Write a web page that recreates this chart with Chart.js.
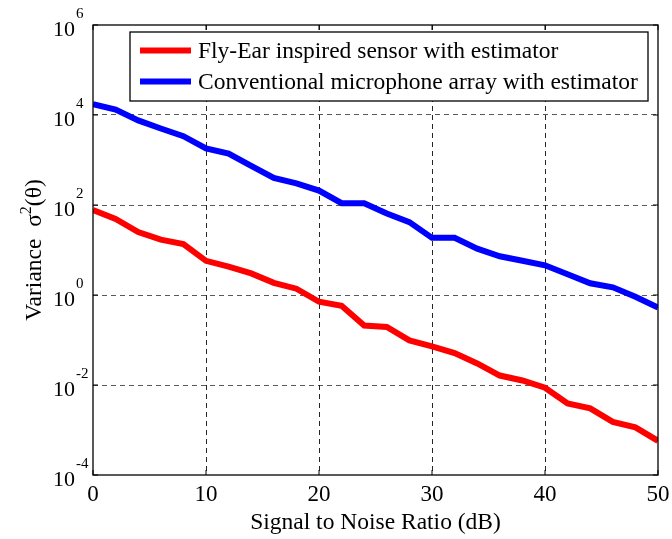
<!DOCTYPE html>
<html>
<head>
<meta charset="utf-8">
<script src="https://cdn.jsdelivr.net/npm/chart.js@4/dist/chart.umd.min.js"></script>
<style>
html,body{margin:0;padding:0;background:#fff;}
#wrap{width:672px;height:539px;position:relative;}
</style>
</head>
<body>
<div id="wrap"><canvas id="c" width="672" height="539"></canvas></div>
<script>
// ---- data ----
const snrDb = [0,2,4,6,8,10,12,14,16,18,20,22,24,26,28,30,32,34,36,38,40,42,44,46,48,50];
// log10 of variance
const flyEarLog = [1.89,1.69,1.40,1.23,1.13,0.76,0.63,0.48,0.27,0.14,-0.15,-0.24,-0.68,-0.71,-1.01,-1.14,-1.29,-1.52,-1.79,-1.90,-2.06,-2.41,-2.52,-2.82,-2.94,-3.24];
const conventionalLog = [4.24,4.12,3.88,3.70,3.53,3.26,3.14,2.87,2.60,2.48,2.32,2.04,2.04,1.81,1.62,1.27,1.27,1.03,0.86,0.76,0.66,0.46,0.26,0.17,-0.04,-0.28];
const flyEarValues = flyEarLog.map(v => Math.pow(10, v));
const conventionalValues = conventionalLog.map(v => Math.pow(10, v));
const seriesLabels = ['Fly-Ear inspired sensor with estimator', 'Conventional microphone array with estimator'];
const xTicks = [0,10,20,30,40,50];
const yTickExponents = [-4,-2,0,2,4,6];
const xTitle = 'Signal to Noise Ratio (dB)';
const yTitleMain = 'Variance  \u03C3';
const yTitleSup = '2';
const yTitleEnd = '(\u03B8)';

const FONT = '"Liberation Serif", "Times New Roman", serif';

const decorPlugin = {
  id: 'decor',
  beforeDraw(chart) {
    const ctx = chart.ctx;
    ctx.save();
    ctx.fillStyle = '#fff';
    ctx.fillRect(0, 0, chart.width, chart.height);
    ctx.restore();
  },
  afterDatasetsDraw(chart) {
    const ctx = chart.ctx;
    const a = chart.chartArea;
    const xs = chart.scales.x, ys = chart.scales.y;
    ctx.save();
    // box
    ctx.strokeStyle = '#000';
    ctx.lineWidth = 1.3;
    ctx.setLineDash([]);
    ctx.strokeRect(a.left, a.top, a.right - a.left, a.bottom - a.top);
    // inner tick marks
    ctx.lineWidth = 1;
    ctx.beginPath();
    xTicks.forEach(t => {
      const px = xs.getPixelForValue(t);
      ctx.moveTo(px, a.bottom); ctx.lineTo(px, a.bottom - 5);
      ctx.moveTo(px, a.top); ctx.lineTo(px, a.top + 5);
    });
    yTickExponents.forEach(e => {
      const py = ys.getPixelForValue(Math.pow(10, e));
      ctx.moveTo(a.left, py); ctx.lineTo(a.left + 5, py);
      ctx.moveTo(a.right, py); ctx.lineTo(a.right - 5, py);
    });
    ctx.stroke();

    // legend
    const lx = a.left + 37, ly = a.top + 7, lw = 518, lh = 69;
    ctx.fillStyle = '#fff';
    ctx.fillRect(lx, ly, lw, lh);
    ctx.strokeStyle = '#000';
    ctx.lineWidth = 1.3;
    ctx.strokeRect(lx, ly, lw, lh);
    ctx.font = '23.5px ' + FONT;
    ctx.textBaseline = 'middle';
    ctx.textAlign = 'left';
    chart.data.datasets.forEach((ds, i) => {
      const yy = ly + 18.5 + i * 31;
      ctx.strokeStyle = ds.borderColor;
      ctx.lineWidth = 6;
      ctx.beginPath();
      ctx.moveTo(lx + 10, yy); ctx.lineTo(lx + 61, yy);
      ctx.stroke();
      ctx.fillStyle = '#000';
      ctx.fillText(ds.label, lx + 68, yy + 1);
    });

    // x tick labels
    ctx.fillStyle = '#000';
    ctx.font = '23px ' + FONT;
    ctx.textAlign = 'center';
    ctx.textBaseline = 'middle';
    xTicks.forEach(t => {
      ctx.fillText(String(t), xs.getPixelForValue(t), a.bottom + 20);
    });
    // x title
    ctx.font = '23.5px ' + FONT;
    ctx.fillText(xTitle, (a.left + a.right) / 2, a.bottom + 48);

    // y tick labels with superscripts
    yTickExponents.forEach(e => {
      const py = ys.getPixelForValue(Math.pow(10, e));
      const sup = e < 0 ? '-' + Math.abs(e) : String(e);
      const right = a.left - 18;
      ctx.textBaseline = 'alphabetic';
      ctx.font = '22px ' + FONT;
      ctx.textAlign = 'right';
      ctx.fillText('10', right, py + 11);
      ctx.font = '15px ' + FONT;
      ctx.textAlign = 'left';
      ctx.fillText(sup, right + 1, py - 7);
    });

    // y title rotated
    ctx.save();
    ctx.translate(41, (a.top + a.bottom) / 2);
    ctx.rotate(-Math.PI / 2);
    ctx.textBaseline = 'alphabetic';
    ctx.font = '23.5px ' + FONT;
    const w1 = ctx.measureText(yTitleMain).width;
    ctx.font = '16px ' + FONT;
    const w2 = ctx.measureText(yTitleSup).width;
    ctx.font = '23.5px ' + FONT;
    const w3 = ctx.measureText(yTitleEnd).width;
    let x0 = -(w1 + w2 + w3) / 2;
    ctx.textAlign = 'left';
    ctx.fillText(yTitleMain, x0, 0);
    ctx.font = '16px ' + FONT;
    ctx.fillText(yTitleSup, x0 + w1, -10);
    ctx.font = '23.5px ' + FONT;
    ctx.fillText(yTitleEnd, x0 + w1 + w2, 0);
    ctx.restore();

    ctx.restore();
  }
};

new Chart(document.getElementById('c'), {
  type: 'line',
  data: {
    labels: snrDb,
    datasets: [
      { label: seriesLabels[0], data: snrDb.map((x, i) => ({x, y: flyEarValues[i]})), borderColor: '#ff0000', borderWidth: 6, pointRadius: 0, tension: 0, fill: false },
      { label: seriesLabels[1], data: snrDb.map((x, i) => ({x, y: conventionalValues[i]})), borderColor: '#0000ff', borderWidth: 6, pointRadius: 0, tension: 0, fill: false }
    ]
  },
  options: {
    responsive: false,
    animation: false,
    devicePixelRatio: 1,
    layout: { padding: { left: 93, right: 14, top: 25, bottom: 64 } },
    plugins: { legend: { display: false }, tooltip: { enabled: false }, title: { display: false } },
    scales: {
      x: {
        type: 'linear', min: 0, max: 50,
        afterBuildTicks(s) { s.ticks = xTicks.map(v => ({ value: v })); },
        ticks: { display: false },
        border: { display: false, dash: [5, 4] },
        grid: {
          drawTicks: false,
          color: ctx => (ctx.tick && (ctx.tick.value === 0 || ctx.tick.value === 50)) ? 'rgba(0,0,0,0)' : 'rgba(0,0,0,0.85)',
          lineWidth: 1
        },
        afterFit(s) { s.height = 0; }
      },
      y: {
        type: 'logarithmic', min: 1e-4, max: 1e6,
        afterBuildTicks(s) { s.ticks = yTickExponents.map(e => ({ value: Math.pow(10, e) })); },
        ticks: { display: false },
        border: { display: false, dash: [5, 4] },
        grid: {
          drawTicks: false,
          color: ctx => (ctx.tick && (ctx.tick.value <= 1e-4 * 1.01 || ctx.tick.value >= 1e6 * 0.99)) ? 'rgba(0,0,0,0)' : 'rgba(0,0,0,0.65)',
          lineWidth: 1
        },
        afterFit(s) { s.width = 0; }
      }
    }
  },
  plugins: [decorPlugin]
});
</script>
</body>
</html>
